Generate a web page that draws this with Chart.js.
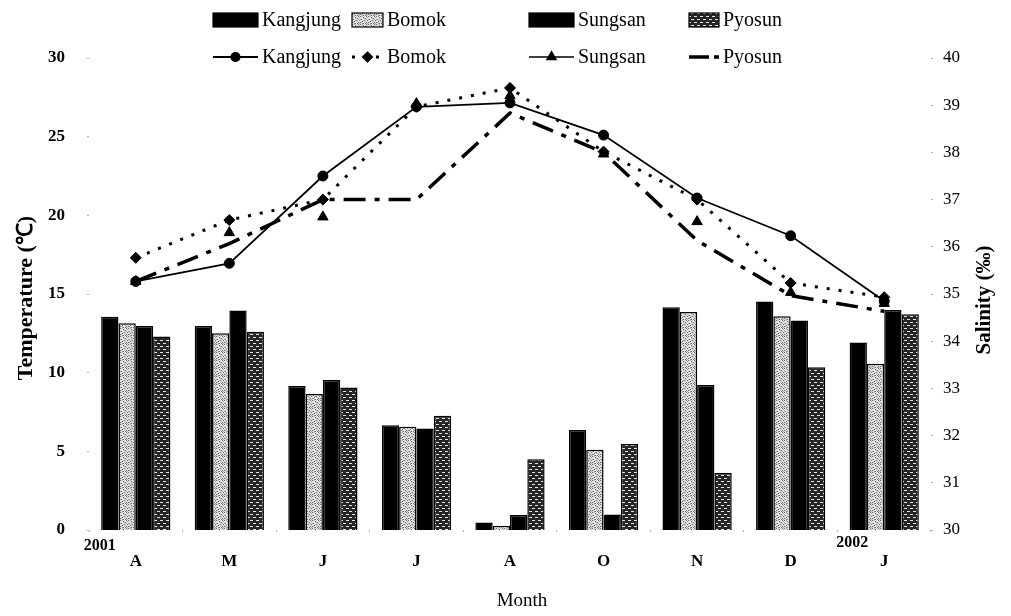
<!DOCTYPE html>
<html>
<head>
<meta charset="utf-8">
<script src="https://cdn.jsdelivr.net/npm/chart.js@4.4.1/dist/chart.umd.min.js"></script>
<style>
  html, body { margin: 0; padding: 0; background: #fff; }
  #c { display: block; }
</style>
</head>
<body>
<canvas id="c" width="1011" height="616"></canvas>
<script>
// Months sampled, April 2001 to January 2002
const months = ['A', 'M', 'J', 'J', 'A', 'O', 'N', 'D', 'J'];
const stations = ['Kangjung', 'Bomok', 'Sungsan', 'Pyosun'];

// Salinity (‰), bars, right axis
const salKangjung = [34.52, 34.32, 33.05, 32.22, 30.16, 32.12, 34.72, 34.84, 33.97];
const salBomok    = [34.38, 34.17, 32.88, 32.19, 30.09, 31.70, 34.62, 34.53, 33.52];
const salSungsan  = [34.32, 34.65, 33.18, 32.15, 30.32, 30.33, 33.07, 34.44, 34.66];
const salPyosun   = [34.10, 34.20, 33.02, 32.42, 31.50, 31.82, 31.21, 33.45, 34.57];

// Water temperature (℃), lines, left axis
const tempKangjung = [15.8, 16.95, 22.5, 26.9, 27.15, 25.1, 21.1, 18.7, 14.55];
const tempBomok    = [17.3, 19.7, 21.0, 26.9, 28.1, 24.05, 21.0, 15.7, 14.8];
const tempSungsan  = [15.8, 18.9, 19.9, 27.1, 27.6, 23.9, 19.6, 15.1, 14.4];
const tempPyosun   = [15.8, 18.2, 21.0, 21.0, 26.5, 24.0, 18.4, 14.9, 13.9];

// Axis ranges
const tempRange = { min: 0, max: 30, step: 5 };
const salRange  = { min: 30, max: 40, step: 1 };

const SERIF = '"Liberation Serif", "Times New Roman", serif';

// ---- fill textures for the hatched bars ----
function stipplePattern() {
  const t = document.createElement('canvas');
  t.width = 8; t.height = 8;
  const g = t.getContext('2d');
  g.fillStyle = '#e2e2e2';
  g.fillRect(0, 0, 8, 8);
  const dark = [[0,0],[3,1],[6,0],[1,3],[5,2],[7,4],[2,5],[4,4],[0,6],[6,6],[3,7],[5,7]];
  const mid = [[2,0],[7,1],[4,2],[0,3],[3,4],[6,3],[1,6],[5,5],[7,7],[2,7]];
  g.fillStyle = '#6e6e6e';
  dark.forEach(([x, y]) => g.fillRect(x, y, 1, 1));
  g.fillStyle = '#a8a8a8';
  mid.forEach(([x, y]) => g.fillRect(x, y, 1, 1));
  return g.createPattern(t, 'repeat');
}
function brickPattern() {
  const t = document.createElement('canvas');
  t.width = 6; t.height = 6;
  const g = t.getContext('2d');
  g.fillStyle = '#262626';
  g.fillRect(0, 0, 6, 6);
  g.fillStyle = '#e4e4e4';
  g.fillRect(1, 1, 3, 1);
  g.fillRect(4, 4, 2, 1);
  g.fillRect(0, 4, 1, 1);
  return g.createPattern(t, 'repeat');
}
const fillStipple = stipplePattern();
const fillBrick = brickPattern();

const barStyle = {
  Kangjung: { fill: '#000000' },
  Bomok:    { fill: fillStipple },
  Sungsan:  { fill: '#000000' },
  Pyosun:   { fill: fillBrick }
};
const lineStyle = {
  Kangjung: { dash: [], width: 1.8, point: 'circle', radius: 5, showLine: true },
  Bomok:    { dash: [3, 9], width: 3, point: 'rectRot', radius: 5.5, showLine: true },
  Sungsan:  { dash: [], width: 1.5, point: 'triangle', radius: 6, showLine: false },
  Pyosun:   { dash: [22, 9, 5, 9], width: 3.5, point: false, radius: 0, showLine: true }
};

const salSeries = [salKangjung, salBomok, salSungsan, salPyosun];
const tempSeries = [tempKangjung, tempBomok, tempSungsan, tempPyosun];

const barSets = stations.map((name, i) => ({
  type: 'bar',
  label: name,
  data: salSeries[i],
  yAxisID: 'ySal',
  backgroundColor: barStyle[name].fill,
  borderColor: '#000',
  borderWidth: 1.5,
  borderSkipped: false,
  categoryPercentage: 0.74,
  barPercentage: 1.0,
  order: 2
}));
const lineSets = stations.map((name, i) => {
  const s = lineStyle[name];
  return {
    type: 'line',
    label: name,
    data: tempSeries[i],
    yAxisID: 'yTemp',
    borderColor: '#000',
    backgroundColor: '#000',
    borderWidth: s.width,
    borderDash: s.dash,
    borderCapStyle: 'butt',
    showLine: s.showLine,
    pointStyle: s.point,
    pointRadius: s.radius,
    pointBackgroundColor: '#000',
    pointBorderColor: '#000',
    pointBorderWidth: 1,
    tension: 0,
    fill: false,
    order: 1
  };
});

// ---- legend, axis titles and year marks drawn on the canvas ----
const legendCols = [
  { x: 213, w: 45 },
  { x: 352, w: 31 },
  { x: 529, w: 45 },
  { x: 689, w: 30 }
];
const legendRows = { bars: 20, lines: 57 };

const decorations = {
  id: 'decorations',
  afterDraw(chart) {
    const ctx = chart.ctx;
    ctx.save();
    ctx.fillStyle = '#000';
    ctx.strokeStyle = '#000';

    // legend: bar swatches
    ctx.font = '20px ' + SERIF;
    ctx.textBaseline = 'middle';
    ctx.textAlign = 'left';
    stations.forEach((name, i) => {
      const c = legendCols[i];
      const y = legendRows.bars;
      ctx.fillStyle = barStyle[name].fill;
      ctx.fillRect(c.x, y - 7, c.w, 14);
      ctx.lineWidth = 1.2;
      ctx.strokeStyle = '#000';
      ctx.strokeRect(c.x, y - 7, c.w, 14);
      ctx.fillStyle = '#000';
      ctx.fillText(name, c.x + c.w + 4, y + 1);
    });
    // legend: line samples
    stations.forEach((name, i) => {
      const c = legendCols[i];
      const y = legendRows.lines;
      const s = lineStyle[name];
      ctx.save();
      ctx.lineWidth = s.width;
      ctx.setLineDash(name === 'Pyosun' ? [20, 5, 5, 5] : s.dash);
      ctx.beginPath();
      ctx.moveTo(c.x, y);
      ctx.lineTo(c.x + c.w, y);
      ctx.stroke();
      ctx.restore();
      if (s.point) {
        Chart.helpers.drawPoint(ctx, { pointStyle: s.point, radius: s.radius - 0.5, rotation: 0, borderWidth: 1 },
          c.x + c.w / 2, y);
        ctx.fill();
      }
      ctx.fillStyle = '#000';
      ctx.fillText(name, c.x + c.w + 4, y + 1);
    });

    // left axis title
    ctx.font = 'bold 22px ' + SERIF;
    ctx.textAlign = 'center';
    ctx.save();
    ctx.translate(26, 298);
    ctx.rotate(-Math.PI / 2);
    ctx.fillText('Temperature (\u2103)', 0, 0);
    ctx.restore();

    // right axis title, reading bottom to top
    ctx.font = 'bold 21px ' + SERIF;
    ctx.save();
    ctx.translate(985, 300);
    ctx.rotate(-Math.PI / 2);
    ctx.fillText('Salinity (\u2030)', 0, 0);
    ctx.restore();

    // x axis title
    ctx.font = '19px ' + SERIF;
    ctx.fillText('Month', 522, 601);

    // year marks
    const xs = chart.scales.x;
    ctx.font = 'bold 16px ' + SERIF;
    ctx.fillText('2001', xs.getPixelForValue(0) - 36, 546);
    ctx.fillText('2002', xs.getPixelForValue(8) - 32, 543);
    ctx.restore();
  }
};

new Chart(document.getElementById('c'), {
  data: { labels: months, datasets: [...lineSets, ...barSets] },
  options: {
    responsive: false,
    devicePixelRatio: 1,
    animation: false,
    layout: { padding: { top: 58, left: 10, right: 10, bottom: 0 } },
    plugins: { legend: { display: false }, tooltip: { enabled: false }, title: { display: false } },
    scales: {
      x: {
        type: 'category',
        offset: true,
        grid: { display: true, drawOnChartArea: false, tickLength: 2, color: '#b0b0b0', offset: true },
        border: { display: false },
        ticks: { font: { family: SERIF, size: 17, weight: 'bold' }, color: '#000', padding: 19, maxRotation: 0 },
        afterFit(scale) { scale.height = 86; }
      },
      yTemp: {
        type: 'linear',
        position: 'left',
        min: tempRange.min, max: tempRange.max,
        grid: { display: true, drawOnChartArea: false, tickLength: 2, color: '#b0b0b0' },
        border: { display: false },
        ticks: { stepSize: tempRange.step, font: { family: SERIF, size: 17, weight: 'bold' }, color: '#000', padding: 22 },
        afterFit(scale) { scale.width = 79; }
      },
      ySal: {
        type: 'linear',
        position: 'right',
        min: salRange.min, max: salRange.max,
        grid: { display: true, drawOnChartArea: false, tickLength: 2, color: '#b0b0b0' },
        border: { display: false },
        ticks: { stepSize: salRange.step, font: { family: SERIF, size: 17 }, color: '#000', padding: 10 },
        afterFit(scale) { scale.width = 70; }
      }
    }
  },
  plugins: [decorations]
});
</script>
</body>
</html>
